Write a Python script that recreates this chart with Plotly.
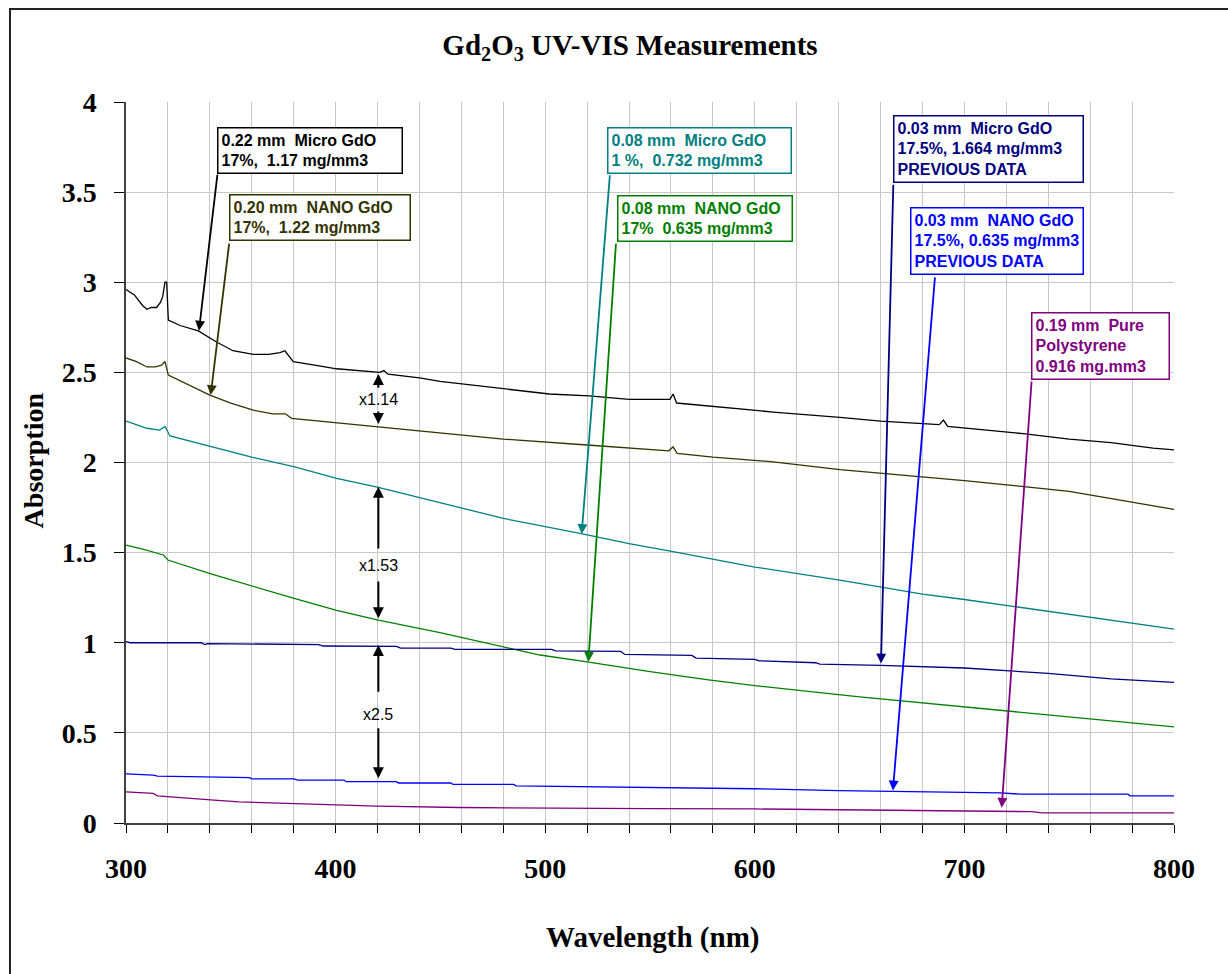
import plotly.graph_objects as go

# ---- measured absorption spectra (wavelength nm, absorption) ----
wl_micro_022 = [300, 304, 308, 310, 312, 314.6, 316.5, 317.5, 318.6, 319.4, 320.2, 325.8, 334.5, 343, 351,
                360.7, 368, 373.5, 375.8, 379.8, 390, 400.5, 421, 423, 425, 440, 449.8, 480, 502, 521, 540,
                559.5, 561, 562.7, 580, 608.7, 640.6, 660, 688, 690, 692, 710, 728, 750, 770, 790, 800]
ab_micro_022 = [2.96, 2.93, 2.87, 2.85, 2.86, 2.86, 2.89, 2.92, 3.00, 3.00, 2.79, 2.76, 2.73, 2.67, 2.62,
                2.60, 2.60, 2.61, 2.62, 2.56, 2.54, 2.52, 2.50, 2.51, 2.49, 2.47, 2.45, 2.41, 2.38, 2.37, 2.35,
                2.35, 2.38, 2.33, 2.31, 2.28, 2.25, 2.23, 2.21, 2.235, 2.20, 2.18, 2.16, 2.13, 2.11, 2.08, 2.07]

wl_nano_020 = [300, 305, 310, 314, 317, 318.6, 320.2, 330, 340, 350, 360.7, 370, 376, 379, 400.5, 421, 450,
               480, 520, 540, 559, 561, 563, 580, 608.8, 640.6, 670, 700, 725, 750, 775, 800]
ab_nano_020 = [2.58, 2.56, 2.53, 2.53, 2.54, 2.56, 2.485, 2.43, 2.374, 2.33, 2.29, 2.27, 2.27, 2.245, 2.22,
               2.20, 2.166, 2.13, 2.097, 2.08, 2.065, 2.087, 2.05, 2.03, 2.004, 1.96, 1.93, 1.90, 1.87, 1.84,
               1.79, 1.74]

wl_micro_008 = [300, 305, 310, 316, 318.6, 321, 330, 340, 360, 380, 400.5, 420.4, 449.8, 480, 516.6, 540,
                561, 600, 640.6, 680, 700, 750, 800]
ab_micro_008 = [2.23, 2.21, 2.19, 2.18, 2.20, 2.147, 2.12, 2.09, 2.03, 1.977, 1.912, 1.862, 1.779, 1.69,
                1.607, 1.55, 1.505, 1.42, 1.348, 1.27, 1.24, 1.16, 1.076]

wl_nano_008 = [300, 308, 317.8, 320, 340.9, 360.7, 379.8, 400.5, 420.4, 449.8, 480, 497.5, 520, 550,
               577, 600, 650, 700, 750, 800]
ab_nano_008 = [1.542, 1.52, 1.487, 1.459, 1.381, 1.311, 1.247, 1.18, 1.126, 1.056, 0.975, 0.932,
               0.894, 0.84, 0.796, 0.762, 0.70, 0.645, 0.59, 0.533]

wl_micro_003 = [300, 302, 336, 337.5, 339, 392, 394, 429, 431, 455, 457, 503, 505, 536, 538, 570, 572,
                600, 602, 615, 629, 631, 660, 700, 740, 770, 800]
ab_micro_003 = [1.006, 1.0, 1.0, 0.99, 0.995, 0.99, 0.982, 0.98, 0.97, 0.97, 0.963, 0.963, 0.955, 0.952,
                0.935, 0.93, 0.915, 0.908, 0.9, 0.895, 0.889, 0.881, 0.875, 0.86, 0.83, 0.80, 0.78]

wl_nano_003 = [300, 313, 315, 337, 359, 360, 380, 382, 404, 405, 429, 430, 455, 456, 485, 486, 530, 560,
               600, 640, 680, 717, 727, 778, 779, 800]
ab_nano_003 = [0.272, 0.266, 0.26, 0.256, 0.252, 0.245, 0.245, 0.238, 0.238, 0.229, 0.229, 0.222, 0.222,
               0.214, 0.214, 0.206, 0.20, 0.195, 0.19, 0.18, 0.172, 0.167, 0.16, 0.16, 0.151, 0.151]

wl_polystyrene = [300, 313, 315, 321, 330, 342, 354, 370, 393, 420, 459, 500, 550, 600, 650, 700, 717,
                  732, 737, 800]
ab_polystyrene = [0.173, 0.164, 0.151, 0.145, 0.136, 0.127, 0.117, 0.112, 0.104, 0.094, 0.086, 0.085,
                  0.08, 0.078, 0.072, 0.068, 0.063, 0.063, 0.056, 0.056]

series_names = ["0.22 mm Micro GdO", "0.20 mm NANO GdO", "0.08 mm Micro GdO", "0.08 mm NANO GdO",
                "0.03 mm Micro GdO", "0.03 mm NANO GdO", "0.19 mm Pure Polystyrene"]
series_x = [wl_micro_022, wl_nano_020, wl_micro_008, wl_nano_008, wl_micro_003, wl_nano_003, wl_polystyrene]
series_y = [ab_micro_022, ab_nano_020, ab_micro_008, ab_nano_008, ab_micro_003, ab_nano_003, ab_polystyrene]
series_colors = ["#000000", "#333300", "#008080", "#008000", "#000080", "#0000FF", "#800080"]

# callout boxes: text, box anchor (x, y top-left), box width px, arrow tail, arrow tip
label_texts = [
    "0.22 mm  Micro GdO<br>17%,  1.17 mg/mm3",
    "0.20 mm  NANO GdO<br>17%,  1.22 mg/mm3",
    "0.08 mm  Micro GdO<br>1 %,  0.732 mg/mm3",
    "0.08 mm  NANO GdO<br>17%  0.635 mg/mm3",
    "0.03 mm  Micro GdO<br>17.5%, 1.664 mg/mm3<br>PREVIOUS DATA",
    "0.03 mm  NANO GdO<br>17.5%, 0.635 mg/mm3<br>PREVIOUS DATA",
    "0.19 mm  Pure<br>Polystyrene<br>0.916 mg.mm3",
]
label_box_x = [343.3, 349.3, 529.6, 534.1, 665.8, 674.0, 731.6]
label_box_y = [3.863, 3.49, 3.863, 3.484, 3.928, 3.419, 2.837]
label_box_w = [186, 182, 185, 176, 191, 174, 139]
arrow_tail_x = [343.7, 349.3, 530.9, 533.8, 666.1, 686.0, 732.1]
arrow_tail_y = [3.605, 3.222, 3.602, 3.222, 3.549, 3.035, 2.458]
arrow_tip_x = [334.8, 340.4, 517.4, 520.6, 660.2, 665.9, 717.8]
arrow_tip_y = [2.731, 2.374, 1.603, 0.895, 0.885, 0.18, 0.085]

# ratio markers between curve pairs at 420 nm
ratio_x = 420.4
ratio_texts = ["x1.14", "x1.53", "x2.5"]
ratio_text_y = [2.35, 1.431, 0.603]
ratio_up_tail = [2.406, 1.515, 0.72]
ratio_up_tip = [2.491, 1.866, 0.9875]
ratio_down_tail = [2.291, 1.348, 0.534]
ratio_down_tip = [2.214, 1.136, 0.248]

y_tick_vals = [0, 0.5, 1, 1.5, 2, 2.5, 3, 3.5, 4]
y_tick_text = ["0", "0.5", "1", "1.5", "2", "2.5", "3", "3.5", "4"]

SERIF = "Liberation Serif"
SANS = "Liberation Sans"
BOX_PAD = 3
BOX_BORDER = 1.5

fig = go.Figure()
for name, xs, ys, col in zip(series_names, series_x, series_y, series_colors):
    fig.add_trace(go.Scatter(x=xs, y=ys, mode="lines", name=name,
                             line=dict(color=col, width=1.3), showlegend=False))

annotations = []
for i, txt in enumerate(label_texts):
    col = series_colors[i]
    annotations.append(dict(
        x=label_box_x[i], y=label_box_y[i], xref="x", yref="y",
        xanchor="left", yanchor="top", align="left", showarrow=False,
        text="<b>" + txt + "</b>", width=label_box_w[i] - 2 * (BOX_PAD + BOX_BORDER),
        font=dict(family=SANS, size=16, color=col),
        bgcolor="white", bordercolor=col, borderwidth=BOX_BORDER, borderpad=BOX_PAD,
    ))
    annotations.append(dict(
        x=arrow_tip_x[i], y=arrow_tip_y[i], xref="x", yref="y",
        ax=arrow_tail_x[i], ay=arrow_tail_y[i], axref="x", ayref="y",
        text="", showarrow=True, arrowhead=2, arrowsize=1.1, arrowwidth=1.8,
        arrowcolor=col,
    ))

for i, txt in enumerate(ratio_texts):
    annotations.append(dict(
        x=ratio_x, y=ratio_text_y[i], xref="x", yref="y", showarrow=False,
        text=txt, font=dict(family=SANS, size=16, color="#000000"),
    ))
    annotations.append(dict(
        x=ratio_x, y=ratio_up_tip[i], ax=ratio_x, ay=ratio_up_tail[i],
        xref="x", yref="y", axref="x", ayref="y", text="", showarrow=True,
        arrowhead=2, arrowsize=1.1, arrowwidth=2, arrowcolor="#000000",
    ))
    annotations.append(dict(
        x=ratio_x, y=ratio_down_tip[i], ax=ratio_x, ay=ratio_down_tail[i],
        xref="x", yref="y", axref="x", ayref="y", text="", showarrow=True,
        arrowhead=2, arrowsize=1.1, arrowwidth=2, arrowcolor="#000000",
    ))

# axis titles
annotations.append(dict(
    x=0.502, y=-0.1595, xref="paper", yref="paper", showarrow=False,
    text="<b>Wavelength (nm)</b>", font=dict(family=SERIF, size=29, color="#000000"),
    xanchor="center", yanchor="middle",
))
annotations.append(dict(
    x=-0.0887, y=0.503, xref="paper", yref="paper", showarrow=False, textangle=-90,
    text="<b>Absorption</b>", font=dict(family=SERIF, size=28, color="#000000"),
    xanchor="center", yanchor="middle",
))

tick_font = dict(family=SERIF, size=28, color="#000000", weight="bold")

fig.update_layout(
    width=1228, height=974,
    margin=dict(l=126, r=54, t=102, b=151),
    paper_bgcolor="white", plot_bgcolor="white",
    title=dict(text="<b>Gd<sub>2</sub>O<sub>3</sub> UV-VIS Measurements</b>",
               x=0.513, xanchor="center", y=1 - 45 / 974, yanchor="middle",
               font=dict(family=SERIF, size=29, color="#000000")),
    annotations=annotations,
    shapes=[dict(type="rect", xref="paper", yref="paper",
                 x0=-0.1107, x1=1.07, y0=-0.25, y1=1.129,
                 line=dict(color="#222222", width=2), fillcolor="rgba(0,0,0,0)")],
    xaxis=dict(range=[300, 800], tick0=300, dtick=100,
               showgrid=True, gridcolor="#C8C8C8", gridwidth=1, zeroline=False,
               showline=True, linecolor="#404040", linewidth=1.5,
               ticks="outside", ticklen=8, tickcolor="#000000", tickwidth=1.2,
               minor=dict(dtick=20, tick0=300, ticks="outside", ticklen=8, tickcolor="#000000",
                          tickwidth=1.2, showgrid=True, gridcolor="#C8C8C8", gridwidth=1),
               ticklabelstandoff=12, tickfont=tick_font),
    yaxis=dict(range=[0, 4], tickvals=y_tick_vals, ticktext=y_tick_text,
               showgrid=True, gridcolor="#C8C8C8", gridwidth=1, zeroline=False,
               showline=True, linecolor="#404040", linewidth=1.5,
               ticks="outside", ticklen=10, tickcolor="#000000", tickwidth=1.2,
               ticklabelstandoff=12, tickfont=tick_font),
)

fig.write_html("out.html")
